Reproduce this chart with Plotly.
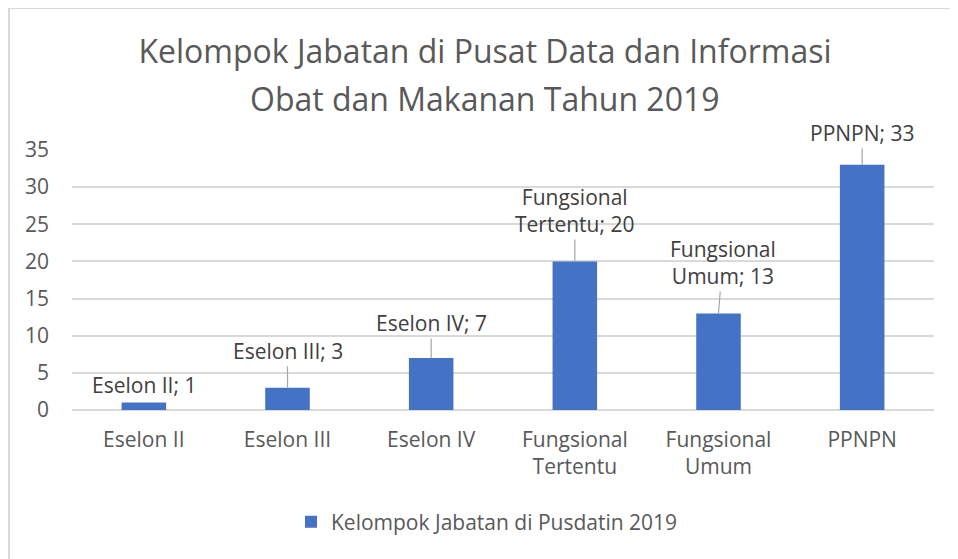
import plotly.graph_objects as go

categories = ["Eselon II", "Eselon III", "Eselon IV", "Fungsional Tertentu", "Fungsional Umum", "PPNPN"]
tick_labels = ["Eselon II", "Eselon III", "Eselon IV", "Fungsional<br>Tertentu", "Fungsional<br>Umum", "PPNPN"]
values = [1, 3, 7, 20, 13, 33]
label_texts = ["Eselon II; 1", "Eselon III; 3", "Eselon IV; 7", "Fungsional<br>Tertentu; 20", "Fungsional<br>Umum; 13", "PPNPN; 33"]
series_name = "Kelompok Jabatan di Pusdatin 2019"
title_line1 = "Kelompok Jabatan di Pusat Data dan Informasi"
title_line2 = "Obat dan Makanan Tahun 2019"

# label offsets (pixels) for data-label leader lines
label_dx = [0, 0, 0, 0, 4, 0]
label_dy = [-18, -37, -35, -51, -51, -32]

FONT = "Open Sans"
W, H = 950, 551
L, R, T, B = 64, 926, 142, 402
pw = R - L
ph = B - T
FS = 21

fig = go.Figure()
fig.add_trace(go.Bar(
    x=categories, y=values, name=series_name,
    marker=dict(color="#4472C4", line=dict(width=0)),
    width=0.31, showlegend=True,
))

for c, v, t, dx, dy in zip(categories, values, label_texts, label_dx, label_dy):
    if abs(dy) > 20:
        fig.add_annotation(
            x=c, y=v, xref="x", yref="y", text=t,
            showarrow=True, arrowhead=0, arrowwidth=1.2, arrowcolor="#A6A6A6",
            ax=dx, ay=dy, axref="pixel", ayref="pixel", standoff=0, startstandoff=0,
            font=dict(family=FONT, size=FS, color="#404040"), align="center",
        )
    else:
        fig.add_annotation(
            x=c, y=v, xref="x", yref="y", text=t, showarrow=False,
            yanchor="middle", yshift=-dy,
            font=dict(family=FONT, size=FS, color="#404040"),
        )

fig.add_annotation(text=title_line2, xref="paper", yref="paper",
                   x=(477 - L) / pw, y=(B - 90) / ph, xanchor="center", yanchor="middle",
                   showarrow=False, font=dict(family=FONT, size=32, color="#595959"))

# chart-area border (top and left edges visible)
fig.add_shape(type="line", xref="paper", yref="paper",
              x0=(0 - L) / pw, x1=(W + 10 - L) / pw, y0=(B - 0) / ph, y1=(B - 0) / ph,
              line=dict(color="#D9D9D9", width=2), layer="below")
fig.add_shape(type="line", xref="paper", yref="paper",
              x0=(1 - L) / pw, x1=(1 - L) / pw, y0=(B - 0) / ph, y1=(B - (H + 10)) / ph,
              line=dict(color="#D9D9D9", width=2), layer="below")

fig.update_layout(
    width=W, height=H,
    margin=dict(l=L, r=W - R, t=T, b=H - B),
    paper_bgcolor="white", plot_bgcolor="white",
    title=dict(text=title_line1, x=477 / W, xanchor="center", y=1 - 44 / H, yanchor="middle",
               xref="container", yref="container",
               font=dict(family=FONT, size=32, color="#595959")),
    font=dict(family=FONT, color="#595959"),
    xaxis=dict(tickmode="array", tickvals=categories, ticktext=tick_labels,
               tickfont=dict(family=FONT, size=FS, color="#595959"),
               showgrid=False, showline=False, ticks="", ticklabelstandoff=15),
    yaxis=dict(range=[0, 35], dtick=5, showgrid=True, gridcolor="#D9D9D9", gridwidth=1.5,
               zeroline=True, zerolinecolor="#D9D9D9", zerolinewidth=1.5,
               tickfont=dict(family=FONT, size=FS, color="#595959"),
               showline=False, ticks="", ticklabelstandoff=22),
    legend=dict(orientation="h", x=(479 - L) / pw, xanchor="center", y=(B - 514) / ph, yanchor="middle",
                font=dict(family=FONT, size=FS, color="#595959")),
    bargap=0.69,
)

fig.write_html("out.html")
